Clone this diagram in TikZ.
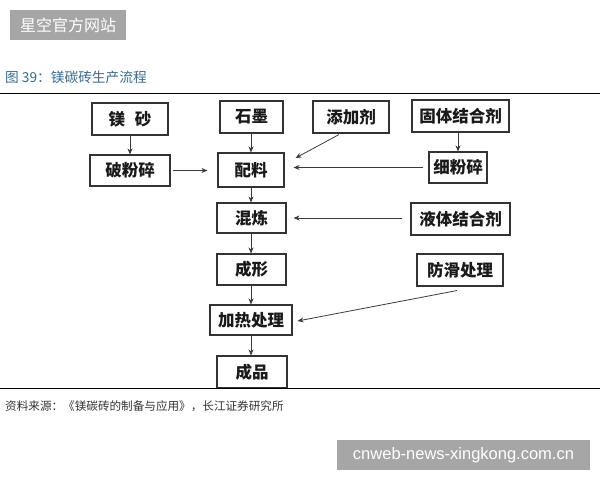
\documentclass[tikz,border=0pt]{standalone}
\usepackage{fontspec}
\newfontfamily\cjk{Noto Sans CJK SC}
\newfontfamily\latinsans{Liberation Sans}
\usetikzlibrary{arrows.meta,calc}
\definecolor{wmgray}{HTML}{A6A6A6}
\definecolor{titleblue}{HTML}{3A6A8C}
\definecolor{linegray}{HTML}{3A3A3A}
\tikzset{
  box/.style={draw=black!80, line width=1.1pt, inner sep=0pt, text=black!90, font=\cjk\bfseries\fontsize{16.5}{18}\selectfont},
  arr/.style={draw=linegray, line width=0.8pt, -{Stealth[length=6pt,width=5pt]}},
  wm/.style={fill=wmgray, text=white, inner sep=0pt}
}
\begin{document}
\begin{tikzpicture}[x=1pt,y=-1pt]
\useasboundingbox (0,0) rectangle (600,480);
% watermarks
\node[wm, minimum width=116pt, minimum height=30pt, font=\cjk\fontsize{16}{18}\selectfont] (wm1) at (68,25) {星空官方网站};
\node[wm, minimum width=253pt, minimum height=30pt, font=\latinsans\fontsize{16.5}{18}\selectfont] (wm2) at (463.5,455) {cnweb-news-xingkong.com.cn};
% title and rules
\node[anchor=west, inner sep=0pt, text=titleblue, font=\cjk\fontsize{13.7}{15}\selectfont] (title) at (5,77) {图 39：镁碳砖生产流程};
\coordinate (tl) at (0,93.5);
\coordinate (tr) at (600,93.5);
\draw[line width=1pt, black] (tl) -- (tr);
\coordinate (bl) at (0,388);
\coordinate (br) at (600,388);
% boxes
\node[box, minimum width=76pt, minimum height=32pt] (ms) at (130,119) {镁\hspace{0.6em}砂};
\node[box, minimum width=80pt, minimum height=31pt] (pfs) at (130,170.5) {破粉碎};
\node[box, minimum width=63pt, minimum height=32pt] (sm) at (251.5,117) {石墨};
\node[box, minimum width=66pt, minimum height=34pt] (pl) at (251,170) {配料};
\node[box, minimum width=76pt, minimum height=32pt] (tjj) at (351,117) {添加剂};
\node[box, minimum width=97pt, minimum height=32pt] (gt) at (460.5,116) {固体结合剂};
\node[box, minimum width=58pt, minimum height=31pt] (xfs) at (458,167.5) {细粉碎};
\node[box, minimum width=69pt, minimum height=30pt] (hl) at (251.5,218) {混炼};
\node[box, minimum width=99pt, minimum height=32pt] (yt) at (460.5,219) {液体结合剂};
\node[box, minimum width=69pt, minimum height=31pt] (cx) at (251.5,269.5) {成形};
\node[box, minimum width=86pt, minimum height=32pt] (fh) at (460,270) {防滑处理};
\node[box, minimum width=82pt, minimum height=30pt] (jr) at (251,320) {加热处理};
\node[box, minimum width=70pt, minimum height=32pt] (cp) at (252,372) {成品};
\draw[line width=1pt, black] (bl) -- (br);
% source
\node[anchor=west, inner sep=0pt, text=black!80, font=\cjk\fontsize{11.6}{13}\selectfont] (src) at (5,406) {资料来源：《镁碳砖的制备与应用》，长江证券研究所};
% connectors
\draw[arr] (ms) -- (pfs);
\draw[arr, shorten <=2pt, shorten >=10pt] (pfs.east) -- (pfs.east -| pl.west);
\draw[arr] (sm.south -| pl.north) -- (pl.north);
\draw[arr] ($(tjj.south)+(-12,1)$) -- ($(pl.east)+(11,-12)$);
\draw[arr, shorten <=5pt, shorten >=9pt] (xfs.west) -- (xfs.west -| pl.east);
\draw[arr] (gt.south -| xfs.north) -- (xfs.north);
\draw[arr] (pl.south) -- (pl.south |- hl.north);
\draw[arr, shorten <=8pt, shorten >=7pt] (yt.west |- hl.east) -- (hl.east);
\draw[arr] (hl.south -| jr.north) -- (cx.north -| jr.north);
\draw[arr] (cx.south -| jr.north) -- (jr.north);
\draw[arr] ($(fh.south)+(-3,4)$) -- ($(jr.east)+(5,1)$);
\draw[arr] (jr.south) -- (jr.south |- cp.north);
\end{tikzpicture}
\end{document}
